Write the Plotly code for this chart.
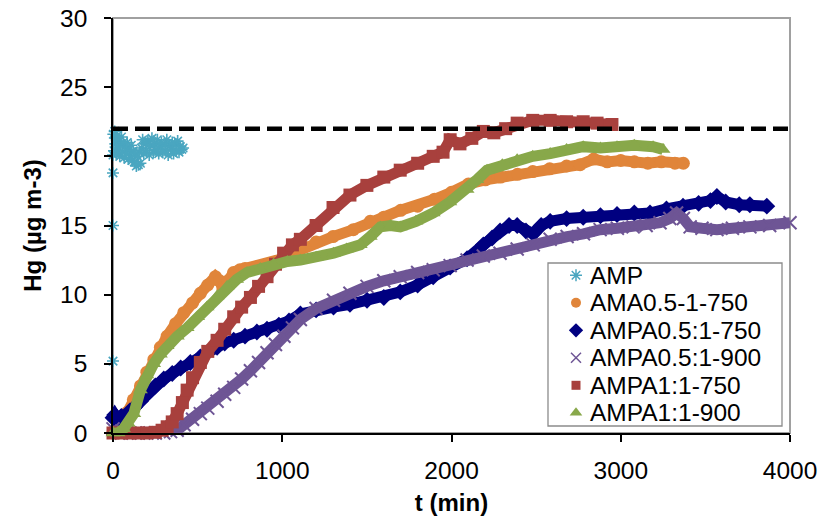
import plotly.graph_objects as go

# ---------------- data ----------------
SERIES_NAMES = ["AMP", "AMA0.5-1-750", "AMPA0.5:1-750", "AMPA0.5:1-900",
                "AMPA1:1-750", "AMPA1:1-900"]

AMP_T = [0, 0, 0, 0,
         2, 6, 10, 14, 18, 22, 26, 30, 35, 40,
         45, 50, 55, 60, 66, 72, 78, 84, 90, 96,
         102, 108, 114, 120, 126, 132, 138, 144, 150, 156,
         162, 168, 175, 182, 190, 198, 206, 214, 222, 230,
         238, 246, 254, 262, 270, 278, 286, 294, 302, 310,
         318, 326, 334, 342, 350, 358, 366, 374, 382, 390,
         398, 406, 414]
AMP_Y = [5.2, 15.0, 18.8, 20.1,
         21.6, 20.4, 21.8, 20.9, 21.3, 20.2, 21.5, 20.6, 21.1, 20.0,
         20.8, 21.4, 20.3, 21.0, 19.9, 20.7, 20.2, 21.0, 19.8, 20.5,
         20.1, 20.8, 19.7, 20.4, 19.6, 20.2, 19.3, 20.0, 19.4, 20.3,
         19.5, 20.6, 21.2, 20.2, 20.9, 20.4, 21.1, 20.1, 20.8, 21.3,
         20.3, 20.9, 20.5, 21.2, 20.2, 20.7, 21.0, 20.3, 20.9, 20.4,
         21.2, 20.1, 20.8, 20.5, 21.0, 20.2, 20.9, 20.4, 21.1, 20.3,
         20.7, 20.5, 20.6]

AMA_T = [0, 30, 60, 84, 120, 162, 200, 241, 280, 320,
         370, 418, 470, 516, 560, 605, 630, 650, 680, 712,
         750, 780, 850, 920, 1000, 1100, 1200, 1300, 1420, 1520,
         1600, 1700, 1800, 1900, 2000, 2100, 2200, 2290, 2390, 2480,
         2580, 2680, 2760, 2840, 2920, 3000, 3080, 3160, 3240, 3320,
         3370]
AMA_Y = [0, 0.3, 0.9, 1.5, 2.4, 3.4, 4.4, 5.3, 6.2, 7.0,
         7.9, 8.7, 9.4, 10.1, 10.7, 11.3, 11.0, 10.4, 11.0, 11.6,
         11.8, 11.9, 12.0, 12.2, 12.6, 13.2, 13.8, 14.2, 14.7, 15.3,
         15.6, 16.1, 16.4, 16.9, 17.4, 18.0, 18.3, 18.5, 18.7, 18.9,
         19.1, 19.3, 19.4, 19.8, 19.6, 19.7, 19.6, 19.5, 19.6, 19.5,
         19.5]

P05_750_T = [0, 10, 30, 50, 70, 100, 130, 162, 200, 250,
             300, 350, 400, 457, 516, 556, 615, 660, 713, 780,
             850, 910, 980, 1040, 1107, 1200, 1303, 1400, 1501, 1600,
             1697, 1800, 1892, 1992, 2092, 2188, 2240, 2287, 2340, 2388,
             2440, 2483, 2530, 2583, 2680, 2778, 2880, 2978, 3080, 3173,
             3270, 3368, 3460, 3530, 3568, 3620, 3700, 3763, 3863]
P05_750_Y = [1.1, 1.3, 0.9, 1.2, 1.0, 1.6, 1.9, 2.3, 2.8, 3.4,
             3.9, 4.3, 4.7, 5.1, 5.5, 5.8, 6.2, 6.5, 6.7, 7.0,
             7.3, 7.5, 7.8, 8.1, 8.6, 8.9, 9.1, 9.3, 9.6, 9.8,
             10.2, 10.7, 11.3, 12.0, 12.6, 13.6, 14.1, 14.6, 15.0, 15.0,
             14.6, 14.4, 15.0, 15.3, 15.5, 15.6, 15.7, 15.8, 15.9, 15.9,
             16.2, 16.4, 16.6, 16.8, 17.1, 16.7, 16.5, 16.5, 16.4]

P05_900_T = [0, 50, 100, 150, 200, 250, 300, 340, 379, 420,
             470, 516, 560, 615, 660, 713, 760, 812, 860, 910,
             960, 1010, 1060, 1107, 1200, 1303, 1400, 1501, 1600, 1697,
             1800, 1892, 1992, 2092, 2188, 2287, 2388, 2483, 2583, 2683,
             2780, 2878, 2980, 3073, 3150, 3232, 3290, 3330, 3370, 3410,
             3480, 3568, 3660, 3763, 3880, 4000]
P05_900_Y = [0.3, 0, 0, 0, 0, 0, 0, 0.1, 0.2, 0.6,
             1.0, 1.4, 1.8, 2.3, 2.8, 3.3, 3.9, 4.5, 5.1, 5.8,
             6.4, 7.0, 7.6, 8.2, 9.0, 9.6, 10.1, 10.6, 11.0, 11.3,
             11.6, 11.8, 12.1, 12.5, 12.8, 13.0, 13.3, 13.6, 14.0, 14.2,
             14.4, 14.7, 14.8, 14.9, 15.0, 15.2, 15.5, 15.9, 15.5, 14.9,
             14.8, 14.7, 14.8, 14.9, 15.0, 15.2]

P1_750_T = [0, 50, 100, 150, 200, 250, 290, 320, 350, 379,
            410, 438, 470, 516, 560, 615, 660, 713, 760, 812,
            860, 910, 960, 1008, 1060, 1107, 1200, 1300, 1400, 1500,
            1600, 1697, 1800, 1892, 1950, 1992, 2050, 2120, 2188, 2250,
            2320, 2388, 2480, 2583, 2680, 2778, 2860, 2948]
P1_750_Y = [0, 0, 0, 0, 0, 0.05, 0.2, 0.45, 0.8, 1.4,
            2.2, 3.1, 4.0, 5.1, 5.9, 6.7, 7.5, 8.4, 9.1, 9.8,
            10.6, 11.3, 12.2, 13.0, 13.6, 14.0, 15.0, 16.3, 17.2, 17.9,
            18.5, 19.0, 19.5, 20.0, 20.3, 21.2, 20.9, 21.3, 21.8, 21.7,
            22.0, 22.4, 22.6, 22.6, 22.5, 22.5, 22.4, 22.3]

P1_900_T = [0, 30, 62, 90, 123, 162, 200, 240, 280, 320,
            380, 438, 500, 556, 615, 674, 730, 792, 870, 949,
            1030, 1107, 1200, 1303, 1380, 1461, 1520, 1580, 1640, 1697,
            1790, 1892, 1990, 2092, 2150, 2210, 2300, 2388, 2480, 2583,
            2680, 2778, 2880, 2978, 3080, 3191, 3250]
P1_900_Y = [0, 0, 0.3, 0.7, 1.4, 3.1, 4.2, 5.0, 5.7, 6.3,
            7.0, 7.6, 8.4, 9.1, 9.9, 10.6, 11.1, 11.6, 11.9, 12.2,
            12.4, 12.5, 12.7, 13.0, 13.3, 13.6, 14.2, 14.9, 15.0, 14.9,
            15.3, 15.9, 16.7, 17.6, 18.3, 19.0, 19.4, 19.75, 20.0, 20.2,
            20.5, 20.7, 20.6, 20.7, 20.8, 20.7, 20.5]

LIMIT_T = [0, 4000]
LIMIT_Y = [22, 22]

X_TICKS = [0, 1000, 2000, 3000, 4000]
Y_TICKS = [0, 5, 10, 15, 20, 25, 30]
X_TITLE = "t (min)"
Y_TITLE = "Hg (µg m-3)"

# ---------------- styling ----------------
W, H = 820, 524
ML, MR, MT, MB = 113, 30, 18, 91
PW, PH = W - ML - MR, H - MT - MB
XR = [0, 4000]
YR = [0, 30]
FONT = "Liberation Sans, Arial, sans-serif"

COLORS = ["#4AA6C0", "#E0853A", "#000080", "#6E5595", "#A8403D", "#88A84A"]
SYMBOLS = ["asterisk-open", "circle", "diamond", "x-thin-open", "square", "triangle-up"]


def px_x(px):
    return XR[0] + (px - ML) / PW * (XR[1] - XR[0])


def px_y(py):
    return YR[0] + (MT + PH - py) / PH * (YR[1] - YR[0])


def paper_x(px):
    return (px - ML) / PW


def paper_y(py):
    return (MT + PH - py) / PH


fig = go.Figure()

# AMP : only markers
fig.add_trace(go.Scatter(
    x=AMP_T, y=AMP_Y, mode="markers", name=SERIES_NAMES[0], showlegend=False,
    cliponaxis=False,
    marker=dict(symbol=SYMBOLS[0], size=10, color=COLORS[0],
                line=dict(color=COLORS[0], width=1.6))))

series = [(AMA_T, AMA_Y), (P05_750_T, P05_750_Y), (P05_900_T, P05_900_Y),
          (P1_750_T, P1_750_Y), (P1_900_T, P1_900_Y)]
for i, (tt, yy) in enumerate(series, start=1):
    col = COLORS[i]
    sym = SYMBOLS[i]
    # dense band (the original is made of hundreds of overlapping markers)
    fig.add_trace(go.Scatter(
        x=tt, y=yy, mode="lines", showlegend=False, hoverinfo="skip",
        line=dict(color=col, width=11)))
    if sym == "x-thin-open":
        mk = dict(symbol=sym, size=13, color=col, line=dict(color=col, width=2))
    else:
        mk = dict(symbol=sym, size=13, color=col, line=dict(width=0))
    fig.add_trace(go.Scatter(
        x=tt, y=yy, mode="markers", name=SERIES_NAMES[i], showlegend=False,
        cliponaxis=False, marker=mk))

# reference level (dashed)
fig.add_trace(go.Scatter(
    x=LIMIT_T, y=LIMIT_Y, mode="lines", showlegend=False, hoverinfo="skip",
    line=dict(color="black", width=4.5, dash="15px,7px")))

# ---------------- custom legend (Excel-like compact rows) ----------------
LEG_BOX = (548, 263, 782, 426)      # left, top, right, bottom in px
LEG_ROW0, LEG_STEP = 275.3, 27.5
LEG_MX, LEG_TX = 576, 588

shapes = [
    # plot area border (grey top/right)
    dict(type="rect", xref="paper", yref="paper", x0=0, y0=0, x1=1, y1=1,
         line=dict(color="#A0A0A0", width=2), fillcolor="rgba(0,0,0,0)", layer="below"),
    dict(type="rect", xref="paper", yref="paper",
         x0=paper_x(LEG_BOX[0]), x1=paper_x(LEG_BOX[2]),
         y0=paper_y(LEG_BOX[3]), y1=paper_y(LEG_BOX[1]),
         line=dict(color="#8C8C8C", width=1.3), fillcolor="white", layer="below"),
]
annotations = []
leg_sizes = [10, 10, 11, 10, 9, 11]
for i, name in enumerate(SERIES_NAMES):
    ry = LEG_ROW0 + i * LEG_STEP
    sym = SYMBOLS[i]
    col = COLORS[i]
    if sym in ("asterisk-open", "x-thin-open"):
        mk = dict(symbol=sym, size=leg_sizes[i], color=col, line=dict(color=col, width=1.5))
    else:
        mk = dict(symbol=sym, size=leg_sizes[i], color=col, line=dict(width=0))
    fig.add_trace(go.Scatter(x=[px_x(LEG_MX)], y=[px_y(ry)], mode="markers",
                             showlegend=False, hoverinfo="skip", cliponaxis=False,
                             marker=mk))
    annotations.append(dict(
        x=paper_x(LEG_TX), y=paper_y(ry), xref="paper", yref="paper",
        xanchor="left", yanchor="middle", showarrow=False, text=name,
        font=dict(family=FONT, size=24.5, color="black")))

axis_common = dict(showgrid=False, zeroline=False, showline=True, linecolor="black",
                   linewidth=1.5, ticks="outside", ticklen=7, tickwidth=1.5,
                   automargin=False,
                   tickcolor="black", tickfont=dict(family=FONT, size=24.5, color="black"))

fig.update_layout(
    width=W, height=H, autosize=False,
    margin=dict(l=ML, r=MR, t=MT, b=MB, pad=0),
    paper_bgcolor="white", plot_bgcolor="white",
    showlegend=False,
    font=dict(family=FONT, color="black"),
    xaxis=dict(range=XR, tickvals=X_TICKS, ticklabelstandoff=8,
               title=dict(text=X_TITLE, standoff=11,
                          font=dict(family=FONT, size=24, color="black", weight="bold")),
               **axis_common),
    yaxis=dict(range=YR, tickvals=Y_TICKS, ticklabelstandoff=12,
               title=dict(text=Y_TITLE, standoff=12,
                          font=dict(family=FONT, size=24, color="black", weight="bold")),
               **axis_common),
    shapes=shapes,
    annotations=annotations,
)

fig.write_html("out.html", config={"displayModeBar": False})
